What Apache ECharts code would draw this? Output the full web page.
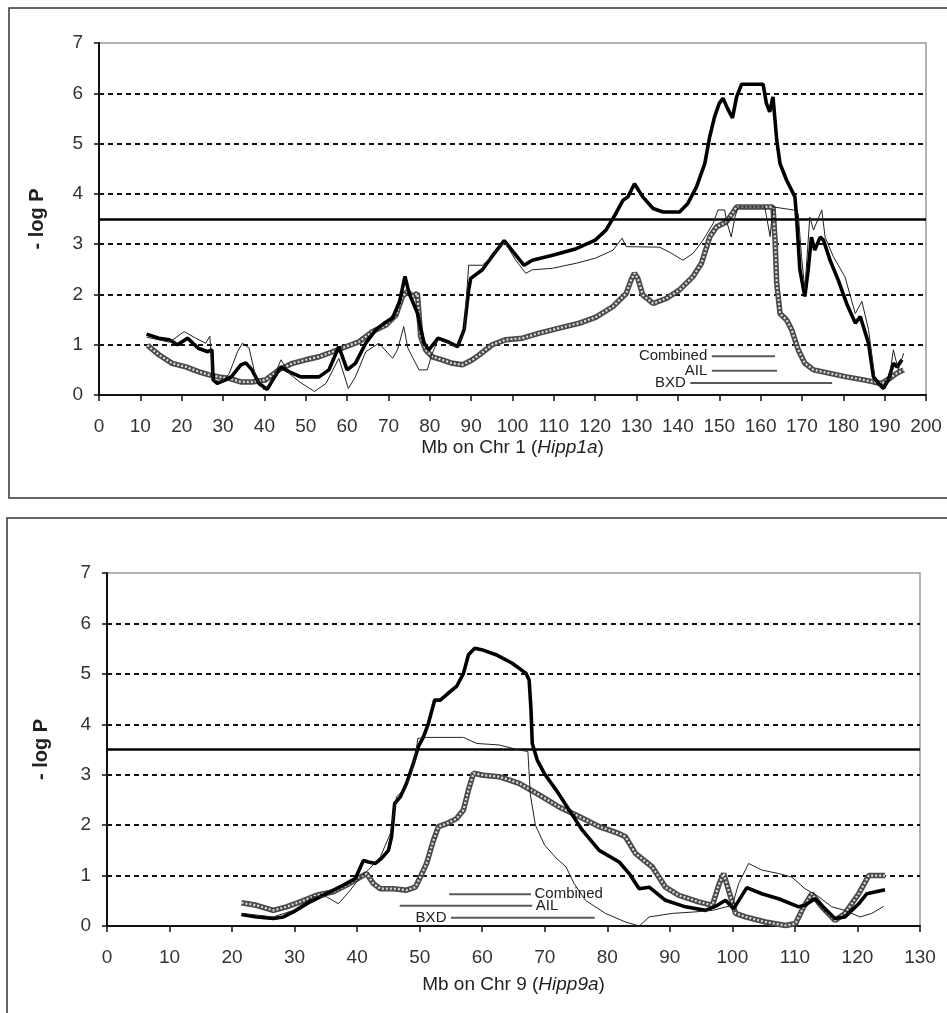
<!DOCTYPE html>
<html><head><meta charset="utf-8">
<script src="https://cdn.jsdelivr.net/npm/echarts@6/dist/echarts.min.js"></script>
<style>html,body{margin:0;padding:0;background:#fff}#c{width:947px;height:1013px}</style>
</head><body><div id="c"></div>
<script>
// ---------- Chr 1 (Hipp1a) ----------
const combined1 = [[11.5,1.21],[14.5,1.13],[17,1.1],[19,1.0],[21.4,1.13],[24,0.93],[26.3,0.86],[27.3,0.9],[27.6,0.3],[28.6,0.23],[30.6,0.3],[32,0.36],[34.3,0.6],[35.5,0.64],[37,0.5],[38.7,0.23],[40.7,0.11],[42,0.3],[44,0.56],[46,0.46],[48.8,0.36],[53.2,0.36],[55.6,0.5],[58,0.96],[60,0.5],[62,0.63],[64.5,1.03],[67,1.3],[69,1.43],[71,1.53],[72.7,1.86],[74,2.36],[75,2.02],[77,1.63],[78.6,1.03],[79.8,0.9],[82,1.13],[84.3,1.06],[86.7,0.96],[88.3,1.3],[89.4,2.09],[89.9,2.32],[92.7,2.49],[95,2.75],[98,3.07],[102.8,2.58],[104.8,2.68],[109.7,2.78],[115.4,2.91],[120,3.08],[122.6,3.28],[125,3.61],[126.7,3.87],[127.9,3.94],[129.5,4.2],[131.5,3.94],[134,3.71],[136.4,3.64],[140.4,3.64],[142.4,3.81],[144.5,4.14],[146.5,4.6],[147.7,5.14],[148.9,5.54],[150,5.8],[150.9,5.9],[152.1,5.68],[153.2,5.51],[154.2,5.93],[155.4,6.18],[160.6,6.18],[161.4,5.8],[162.2,5.63],[163,5.93],[163.9,5.07],[164.7,4.6],[166.3,4.27],[168.3,3.94],[168.7,3.54],[169.5,2.49],[170.7,1.96],[171.5,2.49],[172.3,3.14],[173.1,2.88],[174.4,3.14],[175.2,3.08],[176.8,2.68],[178.8,2.28],[180.8,1.82],[182.9,1.43],[184.1,1.56],[186.1,1.03],[187.3,0.36],[188.5,0.23],[189.7,0.13],[190.9,0.3],[192.1,0.63],[193,0.56],[194.2,0.7]];
const ail1 = [[11.5,1.15],[17,1.05],[20.6,1.26],[23.4,1.13],[25.8,1.03],[26.8,1.17],[27.6,0.3],[29.8,0.26],[31.5,0.43],[33.5,0.86],[34.7,1.03],[36.3,0.93],[37.9,0.36],[39.9,0.1],[42,0.3],[44,0.7],[46,0.43],[48.5,0.26],[52.1,0.07],[54.9,0.23],[58,0.73],[60.3,0.13],[62,0.36],[64.5,0.86],[67.7,1.03],[71,0.73],[72.2,0.9],[73.7,1.36],[74.7,0.93],[77.4,0.5],[79.4,0.5],[80.6,0.83],[82,1.1],[84.3,1.04],[86.7,0.95],[88.3,1.28],[89.4,2.58],[92.7,2.58],[95,2.75],[98,3.05],[100.8,2.68],[103.2,2.42],[104.8,2.49],[109.7,2.52],[115.4,2.62],[120,2.72],[124.3,2.88],[126.5,3.12],[127.5,2.95],[135.6,2.94],[138.4,2.82],[141.2,2.68],[143.7,2.82],[146.1,3.08],[148.5,3.41],[149.7,3.68],[151.3,3.68],[151.7,3.48],[152.9,3.14],[153.8,3.54],[154.6,3.74],[161,3.74],[162.3,3.15],[163,3.74],[167.9,3.68],[169.1,3.61],[169.9,2.75],[170.7,2.1],[171.9,3.54],[172.8,3.28],[174.8,3.68],[175.6,3.14],[177.6,2.75],[180.4,2.35],[182.9,1.62],[184.5,1.86],[186.1,1.3],[187.7,0.3],[189.7,0.11],[191.2,0.36],[192.1,0.9],[193.3,0.5],[194.6,0.83]];
const bxd1 = [[11.7,0.99],[14.5,0.8],[17.7,0.63],[21,0.56],[24.2,0.46],[26.6,0.4],[29,0.36],[31.5,0.33],[34.3,0.26],[37,0.26],[40.3,0.3],[43.5,0.5],[46.8,0.63],[50,0.7],[53.2,0.76],[56.5,0.86],[59.7,0.96],[62.9,1.06],[66.1,1.26],[69.4,1.39],[71.8,1.59],[73.4,1.96],[74.6,2.06],[75.8,1.96],[77,2.02],[77.8,1.16],[79,0.9],[80.6,0.76],[83,0.7],[85.5,0.63],[87.9,0.6],[90.3,0.7],[92,0.8],[95.1,1.0],[98.4,1.1],[102.4,1.13],[106.5,1.23],[111.3,1.33],[116.2,1.43],[120.2,1.55],[124.3,1.76],[127.5,2.02],[128.7,2.29],[129.5,2.42],[130.3,2.32],[131.5,1.99],[134,1.82],[137.2,1.92],[140.4,2.09],[143.7,2.36],[145.7,2.62],[147.7,3.14],[149.3,3.34],[151.7,3.44],[153.4,3.64],[154.2,3.74],[163,3.74],[163.5,3.08],[163.9,2.22],[164.7,1.62],[166.3,1.49],[167.5,1.3],[169.1,0.9],[170.7,0.63],[172.8,0.5],[176.8,0.43],[180.8,0.36],[184.9,0.3],[187.3,0.26],[189.3,0.23],[191.2,0.33],[192.9,0.43],[194.6,0.5]];
// support intervals: [start Mb, end Mb, level]
const combinedCI1 = [148.2, 163.5, 0.77];
const ailCI1 = [148.2, 164, 0.48];
const bxdCI1 = [143, 177.3, 0.24];

// ---------- Chr 9 (Hipp9a) ----------
const combined9 = [[21.5,0.23],[23.9,0.18],[26.6,0.15],[28.2,0.18],[29.8,0.28],[32.5,0.48],[35.1,0.64],[37.8,0.81],[39.7,0.94],[41,1.3],[41.8,1.27],[42.9,1.24],[43.9,1.34],[45,1.5],[45.5,1.77],[46,2.43],[46.9,2.56],[47.9,2.83],[49,3.23],[49.8,3.56],[50.6,3.75],[51.4,4.02],[52.4,4.48],[53.3,4.48],[54.6,4.62],[55.9,4.75],[57,5.01],[57.8,5.38],[58.8,5.51],[59.9,5.48],[62.2,5.38],[64.8,5.21],[67,5.01],[67.5,4.88],[67.8,4.28],[68,3.62],[68.8,3.29],[69.9,3.03],[71.8,2.7],[73.9,2.3],[76,1.9],[78.7,1.5],[81.9,1.27],[83.5,1.04],[85.1,0.74],[86.7,0.77],[89.3,0.51],[92.5,0.38],[95.7,0.31],[97.6,0.41],[98.9,0.51],[100.2,0.34],[102.3,0.76],[104.7,0.64],[107.4,0.54],[110.6,0.38],[111.6,0.41],[113.2,0.54],[114.8,0.34],[116.4,0.15],[118,0.18],[120.2,0.44],[121.5,0.64],[124.4,0.72]];
const ail9 = [[21.5,0.25],[26.6,0.18],[29.8,0.31],[33,0.58],[35.1,0.58],[37,0.44],[38.9,0.71],[40.5,0.97],[41.8,1.11],[43.7,1.37],[45.3,1.83],[46.3,2.56],[47.4,2.7],[48.5,2.96],[49.3,3.36],[49.7,3.72],[51.1,3.74],[57,3.74],[59.1,3.62],[62.7,3.59],[65.9,3.49],[67.3,3.46],[67.7,2.6],[68.5,2.0],[70,1.6],[71.8,1.35],[73.4,1.17],[74.7,0.84],[76.5,0.51],[79.7,0.25],[82.9,0.08],[85.1,0.0],[86.7,0.18],[90.4,0.25],[94.1,0.28],[96.8,0.31],[100,0.41],[101,0.84],[102.6,1.24],[104.7,1.11],[107.4,1.04],[109.5,0.97],[111.6,0.74],[113.8,0.58],[115.9,0.38],[118,0.31],[120.4,0.18],[122.3,0.25],[124.2,0.39]];
const bxd9 = [[21.5,0.46],[23.9,0.41],[26.6,0.31],[28.7,0.38],[30.9,0.48],[33.5,0.61],[36.2,0.68],[38.3,0.81],[40.5,0.97],[41.5,1.04],[42.6,0.84],[43.7,0.74],[45.8,0.74],[47.9,0.71],[49.3,0.77],[50.1,0.97],[51.1,1.24],[52.2,1.7],[53,1.97],[54.3,2.03],[55.9,2.13],[57,2.3],[57.8,2.7],[58.6,3.03],[60.2,2.99],[62.7,2.96],[65.9,2.83],[69.1,2.6],[72.3,2.36],[75.5,2.17],[78.7,1.97],[81.9,1.83],[82.9,1.77],[84.5,1.44],[87.2,1.17],[89.3,0.77],[91.4,0.61],[94.6,0.48],[96.8,0.41],[97.9,0.84],[98.6,1.04],[99.4,0.71],[100.5,0.25],[102.1,0.18],[105.3,0.08],[108.5,0.01],[110.1,0.05],[111.4,0.38],[112.7,0.64],[114.3,0.38],[116.4,0.11],[118,0.25],[120.2,0.64],[121.8,1.0],[124.4,1.0]];
const combinedCI9 = [54.7, 67.8, 0.63];
const ailCI9 = [46.8, 68, 0.40];
const bxdCI9 = [55, 78, 0.165];

const threshold = 3.5;
const xMax1 = 200, xMax9 = 130, yMax = 7;
const xTitle1 = 'Mb on Chr 1 ({i|Hipp1a})';
const xTitle9 = 'Mb on Chr 9 ({i|Hipp9a})';
const yTitle = '- log P';

const FONT = '"Liberation Sans", Arial, sans-serif';
const chart = echarts.init(document.getElementById('c'), null, {renderer: 'canvas'});

function xAxisCfg(gi, max, title) {
  return {
    type: 'value', gridIndex: gi, min: 0, max: max, interval: 10,
    axisLine: {show: true, onZero: false, lineStyle: {color: '#111', width: 2}},
    axisTick: {show: true, inside: false, length: 6, lineStyle: {color: '#111', width: 1.5}},
    axisLabel: {color: '#333', fontSize: 19, fontFamily: FONT, margin: 22},
    splitLine: {show: false},
    name: title, nameLocation: 'middle', nameGap: gi === 0 ? 43 : 49,
    nameTextStyle: {color: '#222', fontSize: 19, fontFamily: FONT,
      rich: {i: {fontStyle: 'italic', fontSize: 19, fontFamily: FONT, color: '#222'}}}
  };
}
function yAxisCfg(gi) {
  return {
    type: 'value', gridIndex: gi, min: 0, max: yMax, interval: 1,
    axisLine: {show: true, lineStyle: {color: '#111', width: 2}},
    axisTick: {show: true, length: 5, lineStyle: {color: '#111', width: 1.5}},
    axisLabel: {color: '#333', fontSize: 19, fontFamily: FONT, margin: 16},
    splitLine: {show: true, showMinLine: false, showMaxLine: false,
      lineStyle: {color: '#111', width: 1.8, type: [5, 4]}},
    name: yTitle, nameLocation: 'middle', nameGap: gi === 0 ? 52 : 56, nameRotate: 90,
    nameTextStyle: {color: '#222', fontSize: 20, fontWeight: 'bold', fontFamily: FONT}
  };
}
function seriesFor(gi, comb, ail, bxd, cis, labelSides) {
  const base = {type: 'line', xAxisIndex: gi, yAxisIndex: gi, symbol: 'none', animation: false, silent: true};
  const out = [
    Object.assign({}, base, {name: 'BXD', data: bxd, z: 3,
      lineStyle: {color: '#4a4a4a', width: 5.5}}),
    Object.assign({}, base, {name: 'BXD-pattern', data: bxd, z: 4,
      lineStyle: {color: '#dcdcdc', width: 2.2, type: [2, 2]}}),
    Object.assign({}, base, {name: 'Combined', data: comb, z: 5,
      lineStyle: {color: '#000', width: 3.6},
      markLine: {silent: true, symbol: 'none', label: {show: false},
        lineStyle: {color: '#000', width: 2.5, type: 'solid'},
        data: [{yAxis: threshold}]}}),
    Object.assign({}, base, {name: 'AIL', data: ail, z: 6,
      lineStyle: {color: '#222', width: 1}})
  ];
  const names = ['Combined', 'AIL', 'BXD'];
  cis.forEach((ci, k) => {
    const side = labelSides[k];
    const pts = [[ci[0], ci[2]], [ci[1], ci[2]]];
    const labIdx = side === 'left' ? 0 : 1;
    const data = pts.map((p, j) => ({
      value: p,
      label: j === labIdx ? {show: true, position: side, distance: side === 'left' ? 4 : 3,
        formatter: names[k], color: '#222', fontSize: 15, fontFamily: FONT} : {show: false}
    }));
    out.push(Object.assign({}, base, {name: names[k] + ' interval', data: data, z: 7,
      symbol: 'circle', symbolSize: 1, showSymbol: true,
      itemStyle: {color: 'rgba(0,0,0,0)'},
      lineStyle: {color: '#5a5a5a', width: 2}}));
  });
  return out;
}

chart.setOption({
  backgroundColor: '#fff',
  animation: false,
  textStyle: {fontFamily: FONT},
  graphic: [
    {type: 'rect', shape: {x: 9, y: 8, width: 950, height: 490}, style: {fill: 'none', stroke: '#333', lineWidth: 1.5}, silent: true},
    {type: 'rect', shape: {x: 7, y: 518, width: 950, height: 510}, style: {fill: 'none', stroke: '#333', lineWidth: 1.5}, silent: true}
  ],
  grid: [
    {left: 99, top: 43, right: 21, height: 352, show: true, borderColor: '#999', borderWidth: 1.5, backgroundColor: '#fff', containLabel: false},
    {left: 107, top: 573, right: 27, height: 353, show: true, borderColor: '#999', borderWidth: 1.5, backgroundColor: '#fff', containLabel: false}
  ],
  xAxis: [xAxisCfg(0, xMax1, xTitle1), xAxisCfg(1, xMax9, xTitle9)],
  yAxis: [yAxisCfg(0), yAxisCfg(1)],
  series: [].concat(
    seriesFor(0, combined1, ail1, bxd1, [combinedCI1, ailCI1, bxdCI1], ['left', 'left', 'left']),
    seriesFor(1, combined9, ail9, bxd9, [combinedCI9, ailCI9, bxdCI9], ['right', 'right', 'left'])
  )
});
</script>
</body></html>
